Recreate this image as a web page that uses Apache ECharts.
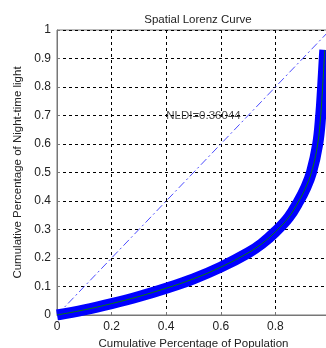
<!DOCTYPE html>
<html>
<head>
<meta charset="utf-8">
<script src="https://cdn.jsdelivr.net/npm/echarts@6/dist/echarts.min.js"></script>
<style>
html,body{margin:0;padding:0;background:#fff;}
#c{width:326px;height:348px;}
</style>
</head>
<body>
<div id="c"></div>
<script>
// Data
const titleText = "Spatial Lorenz Curve";
const xName = "Cumulative Percentage of Population";
const yName = "Cumulative Percentage of Night-time light";
const annotationText = "NLDI=0.36044";
const annotationPos = [0.4, 0.7];
const popX =   [0.0, 0.1,   0.2,  0.3,   0.4,   0.5,   0.6,   0.7,   0.75, 0.8,   0.849, 0.886, 0.91,  0.932, 0.955, 0.966, 0.973, 0.979, 0.981];
const lightY = [0.0, 0.018, 0.04, 0.065, 0.094, 0.127, 0.168, 0.218, 0.25, 0.292, 0.343, 0.4,   0.445, 0.5,   0.6,   0.7,   0.8,   0.9,   0.93];
const equalityX = [0, 1];
const equalityY = [0, 1];
const xTicks = [0, 0.2, 0.4, 0.6, 0.8, 1];
const yTicks = [0, 0.1, 0.2, 0.3, 0.4, 0.5, 0.6, 0.7, 0.8, 0.9, 1];

const curve = popX.map((x, i) => [x, lightY[i]]);
const diag = equalityX.map((x, i) => [x, equalityY[i]]);
const font = "'Liberation Sans', Arial, sans-serif";

const chart = echarts.init(document.getElementById('c'), null, {renderer: 'canvas'});
chart.setOption({
  animation: false,
  backgroundColor: '#fff',
  title: {
    text: titleText, left: 193, top: 9, textAlign: 'center',
    textStyle: {fontFamily: font, fontSize: 11.5, fontWeight: 'normal', color: '#222'}
  },
  grid: {left: 57, right: -4, top: 30, bottom: 33, show: true, borderColor: '#777', borderWidth: 1,
         backgroundColor: '#fff', containLabel: false, outerBoundsMode: 'none'},
  xAxis: {
    type: 'value', min: xTicks[0], max: xTicks[xTicks.length - 1], interval: xTicks[1] - xTicks[0],
    name: xName, nameLocation: 'middle', nameGap: 21,
    nameTextStyle: {fontFamily: font, fontSize: 11.5, color: '#222'},
    axisLine: {show: true, onZero: false, lineStyle: {color: '#777'}},
    axisTick: {show: true, inside: true, length: 3, lineStyle: {color: '#777'}},
    axisLabel: {fontFamily: font, fontSize: 12, color: '#222', margin: 6},
    splitLine: {show: true, lineStyle: {color: '#000', type: [3, 3], width: 1}}
  },
  yAxis: {
    type: 'value', min: yTicks[0], max: yTicks[yTicks.length - 1], interval: yTicks[1] - yTicks[0],
    name: yName, nameLocation: 'middle', nameGap: 28, nameRotate: 90,
    nameTextStyle: {fontFamily: font, fontSize: 11.5, color: '#222'},
    axisLine: {show: true, onZero: false, lineStyle: {color: '#777'}},
    axisTick: {show: true, inside: true, length: 3, lineStyle: {color: '#777'}},
    axisLabel: {fontFamily: font, fontSize: 12, color: '#222', margin: 6},
    splitLine: {show: true, lineStyle: {color: '#000', type: [3, 3], width: 1}}
  },
  series: [
    {
      type: 'line', data: diag, symbol: 'none', silent: true, z: 2,
      lineStyle: {color: '#4d4dff', width: 1, type: [8, 3, 2, 3]}
    },
    {
      type: 'line', data: curve, symbol: 'none', smooth: 0.4, z: 3,
      lineStyle: {color: '#0000ff', width: 11, cap: 'butt', join: 'round'}
    },
    {
      type: 'line', data: curve, symbol: 'none', smooth: 0.4, z: 4,
      lineStyle: {color: '#0a7a0a', width: 1}
    },
    {
      type: 'scatter', data: [annotationPos], symbolSize: 0, z: 5,
      label: {show: true, position: 'right', distance: 0, formatter: annotationText,
              fontFamily: font, fontSize: 11.5, color: '#111'}
    }
  ]
});
</script>
</body>
</html>
